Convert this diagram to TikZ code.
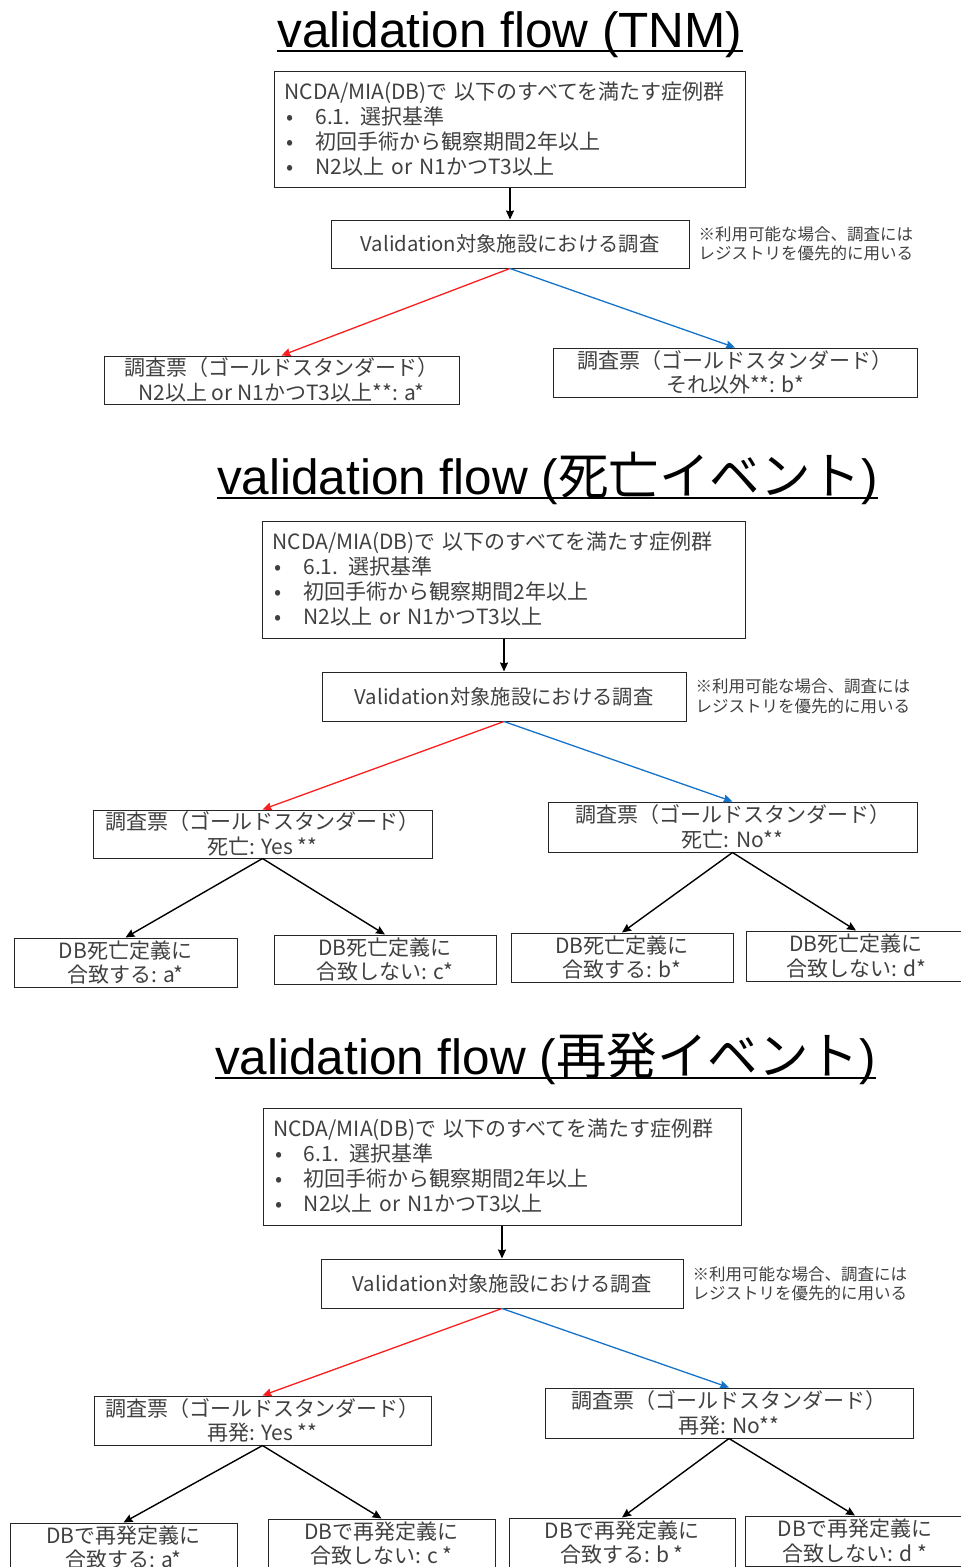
\documentclass[tikz,border=0pt]{standalone}
\usepackage{fontspec}
\setmainfont{Liberation Sans}
\newfontfamily\jp{Noto Sans CJK JP}
\usetikzlibrary{arrows.meta, positioning}

\definecolor{yesred}{RGB}{250,30,30}
\definecolor{noblue}{RGB}{20,115,200}
\newcommand{\bul}{\hspace*{2pt}\makebox[29pt][l]{•}}

\begin{document}
\begin{tikzpicture}[
    x=1pt, y=-1pt,
    ->,
    >={Stealth[length=9pt, width=8pt, inset=1pt]},
    every node/.style={inner sep=0pt, text=black!75},
    box/.style={draw=black!85, line width=1pt, align=center,
        font=\jp\fontsize{21}{24.5}\selectfont},
    srvbox/.style={box, font=\jp\fontsize{20.3}{24.5}\selectfont},
    listbox/.style={box, align=left, inner xsep=10pt,
        font=\jp\fontsize{21}{25}\selectfont},
    heading/.style={anchor=base, text=black, font=\fontsize{49.5}{52}\selectfont},
    note/.style={align=left, font=\jp\fontsize{16.5}{19.5}\selectfont},
    link/.style={line width=1.4pt, black},
    toyes/.style={line width=1.3pt, yesred},
    tono/.style={line width=1.3pt, noblue},
    uline/.style={-, line width=2pt, black},
]
    \clip (0,0) rectangle (961,1567);

    % validation flow (TNM)
    \node[heading] (ttl1) at (510,47) {validation flow (TNM)};
    \node[listbox, text width=451pt, minimum height=116pt] (src1) at (510,129)
        {NCDA/MIA(DB)で 以下のすべてを満たす症例群\\
         \bul 6.1. 選択基準\\
         \bul 初回手術から観察期間2年以上\\
         \bul N2以上 or N1かつT3以上};
    \node[srvbox, minimum width=358pt, minimum height=48pt] (srv1) at (510,244)
        {Validation対象施設における調査};
    \node[note, right=9pt of srv1] (nt1)
        {※利用可能な場合、調査には\\レジストリを優先的に用いる};
    \node[box, minimum width=355pt, minimum height=48pt] (gsA1) at (281.5,380)
        {調査票（ゴールドスタンダード）\\N2以上 or N1かつT3以上**: a*};
    \node[box, minimum width=364pt, minimum height=49pt] (gsB1) at (735,372.5)
        {調査票（ゴールドスタンダード）\\それ以外**: b*};

    \draw[uline] ([yshift=-3.5pt]ttl1.base west) -- ([yshift=-3.5pt]ttl1.base east);
    \path
        (src1) edge [link]   (srv1)
        (srv1.south) edge [toyes] (gsA1.north)
        (srv1.south) edge [tono]  (gsB1.north)
    ;

    % validation flow (death)
    \node[heading] (ttl2) at (547.5,494) {validation flow ({\jp\fontsize{50.5}{52}\selectfont 死亡イベント})};
    \node[listbox, text width=463pt, minimum height=117pt] (src2) at (504,579.5)
        {NCDA/MIA(DB)で 以下のすべてを満たす症例群\\
         \bul 6.1. 選択基準\\
         \bul 初回手術から観察期間2年以上\\
         \bul N2以上 or N1かつT3以上};
    \node[srvbox, minimum width=364pt, minimum height=49pt] (srv2) at (504,696.5)
        {Validation対象施設における調査};
    \node[note, right=9pt of srv2] (nt2)
        {※利用可能な場合、調査には\\レジストリを優先的に用いる};
    \node[box, minimum width=339pt, minimum height=48pt] (gsA2) at (262.5,834)
        {調査票（ゴールドスタンダード）\\死亡: Yes **};
    \node[box, minimum width=369pt, minimum height=50pt] (gsB2) at (732.5,827)
        {調査票（ゴールドスタンダード）\\死亡: No**};
    \node[box, minimum width=223pt, minimum height=49pt] (lf21) at (125.5,962.5)
        {DB死亡定義に\\合致する: a*};
    \node[box, minimum width=222pt, minimum height=49pt] (lf22) at (385,959.5)
        {DB死亡定義に\\合致しない: c*};
    \node[box, minimum width=222pt, minimum height=49pt] (lf23) at (622,957.5)
        {DB死亡定義に\\合致する: b*};
    \node[box, minimum width=220pt, minimum height=50pt] (lf24) at (856,956)
        {DB死亡定義に\\合致しない: d*};

    \draw[uline] ([yshift=-4pt]ttl2.base west) -- ([yshift=-4pt]ttl2.base east);
    \path
        (src2) edge [link]   (srv2)
        (srv2.south) edge [toyes] (gsA2.north)
        (srv2.south) edge [tono]  (gsB2.north)
        (gsA2.south) edge [link]  (lf21.north)
        (gsA2.south) edge [link]  (lf22.north)
        (gsB2.south) edge [link]  (lf23.north)
        (gsB2.south) edge [link]  (lf24.north)
    ;

    % validation flow (recurrence)
    \node[heading] (ttl3) at (545.5,1074) {validation flow ({\jp\fontsize{50.5}{52}\selectfont 再発イベント})};
    \node[listbox, text width=458pt, minimum height=117pt] (src3) at (502,1166.5)
        {NCDA/MIA(DB)で 以下のすべてを満たす症例群\\
         \bul 6.1. 選択基準\\
         \bul 初回手術から観察期間2年以上\\
         \bul N2以上 or N1かつT3以上};
    \node[srvbox, minimum width=362pt, minimum height=49pt] (srv3) at (502,1283.5)
        {Validation対象施設における調査};
    \node[note, right=9pt of srv3] (nt3)
        {※利用可能な場合、調査には\\レジストリを優先的に用いる};
    \node[box, minimum width=337pt, minimum height=49pt] (gsA3) at (262.5,1420.5)
        {調査票（ゴールドスタンダード）\\再発: Yes **};
    \node[box, minimum width=368pt, minimum height=50pt] (gsB3) at (729,1413)
        {調査票（ゴールドスタンダード）\\再発: No**};
    \node[box, minimum width=227pt, minimum height=49pt] (lf31) at (123.5,1547.5)
        {DBで再発定義に\\合致する: a*};
    \node[box, minimum width=227pt, minimum height=49pt] (lf32) at (381.5,1543.5)
        {DBで再発定義に\\合致しない: c *};
    \node[box, minimum width=226pt, minimum height=49pt] (lf33) at (622,1542.5)
        {DBで再発定義に\\合致する: b *};
    \node[box, minimum width=220pt, minimum height=50pt] (lf34) at (855,1541)
        {DBで再発定義に\\合致しない: d *};

    \draw[uline] ([yshift=-4pt]ttl3.base west) -- ([yshift=-4pt]ttl3.base east);
    \path
        (src3) edge [link]   (srv3)
        (srv3.south) edge [toyes] (gsA3.north)
        (srv3.south) edge [tono]  (gsB3.north)
        (gsA3.south) edge [link]  (lf31.north)
        (gsA3.south) edge [link]  (lf32.north)
        (gsB3.south) edge [link]  (lf33.north)
        (gsB3.south) edge [link]  (lf34.north)
    ;
\end{tikzpicture}
\end{document}
